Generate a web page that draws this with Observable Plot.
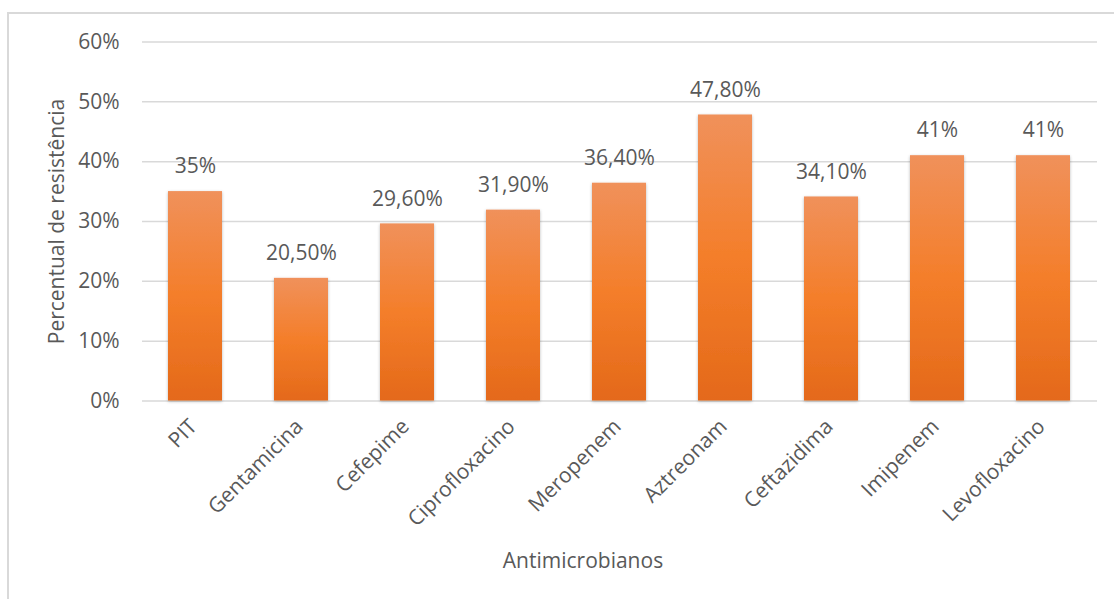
<!DOCTYPE html>
<html>
<head>
<meta charset="utf-8">
<script src="https://cdn.jsdelivr.net/npm/d3@7"></script>
<script src="https://cdn.jsdelivr.net/npm/@observablehq/plot@0.6"></script>
<style>
  html, body { margin: 0; padding: 0; background: #fff; }
  #wrap { position: relative; width: 1114px; height: 599px; overflow: hidden; }
  #frame { position: absolute; left: 7px; top: 12px; width: 1200px; height: 700px; border: 2px solid #d9d9d9; box-sizing: border-box; }
  #chart { position: absolute; left: 0; top: 0; }
</style>
</head>
<body>
<div id="wrap"><div id="frame"></div><div id="chart"></div></div>
<script>
const categories = ["PIT", "Gentamicina", "Cefepime", "Ciprofloxacino", "Meropenem", "Aztreonam", "Ceftazidima", "Imipenem", "Levofloxacino"];
const values = [35, 20.5, 29.6, 31.9, 36.4, 47.8, 34.1, 41, 41];
const valueLabels = ["35%", "20,50%", "29,60%", "31,90%", "36,40%", "47,80%", "34,10%", "41%", "41%"];
const yTicks = [0, 10, 20, 30, 40, 50, 60];
const xTitle = "Antimicrobianos";
const yTitle = "Percentual de resistência";

const data = categories.map((c, i) => ({cat: c, value: values[i], label: valueLabels[i]}));

const defs = () => {
  const g = d3.create("svg:defs");
  const lg = g.append("linearGradient").attr("id", "barGrad").attr("x1", 0).attr("y1", 0).attr("x2", 0).attr("y2", 1);
  lg.append("stop").attr("offset", "0%").attr("stop-color", "#f0915b");
  lg.append("stop").attr("offset", "50%").attr("stop-color", "#f47e2a");
  lg.append("stop").attr("offset", "100%").attr("stop-color", "#e4691a");
  const f = g.append("filter").attr("id", "barShadow").attr("x", "-20%").attr("y", "-10%").attr("width", "140%").attr("height", "120%");
  f.append("feDropShadow").attr("dx", 0).attr("dy", 1).attr("stdDeviation", 1.6).attr("flood-color", "#000").attr("flood-opacity", 0.28);
  return g.node();
};

const font = "'Open Sans', sans-serif";
const textColor = "#595959";
const fs = 21;

const chart = Plot.plot({
  width: 1114,
  height: 599,
  marginLeft: 142,
  marginRight: 17,
  marginTop: 41.5,
  marginBottom: 198.5,
  style: {fontFamily: font, fontSize: fs + "px", color: textColor, background: "transparent"},
  x: {domain: categories, paddingInner: 0.49, paddingOuter: 0.245, label: null},
  y: {domain: [0, 60], label: null},
  marks: [
    defs,
    Plot.ruleY(yTicks, {stroke: "#d9d9d9", strokeWidth: 1.5}),
    Plot.barY(data, {x: "cat", y: "value", fill: "url(#barGrad)"}),
    Plot.text(data, {x: "cat", y: "value", text: "label", dy: -25, lineAnchor: "middle", fill: textColor, fontSize: fs}),
    Plot.axisY({ticks: yTicks, tickSize: 0, tickPadding: 23, tickFormat: d => d + "%", fill: textColor, fontSize: fs, label: null}),
    Plot.axisX({tickSize: 0, tickRotate: -45, tickPadding: 22, dx: -2, fill: textColor, fontSize: fs, label: null}),
    Plot.text([xTitle], {frameAnchor: "bottom", text: d => d, dx: -37, dy: 160, textAnchor: "middle", lineAnchor: "middle", fill: textColor, fontSize: fs}),
    Plot.text([yTitle], {frameAnchor: "left", text: d => d, rotate: -90, dx: -85, textAnchor: "middle", lineAnchor: "middle", fill: textColor, fontSize: fs})
  ]
});
d3.select(chart).selectAll("g[fill='url(#barGrad)'] rect").attr("filter", "url(#barShadow)");
document.getElementById("chart").appendChild(chart);
</script>
</body>
</html>
